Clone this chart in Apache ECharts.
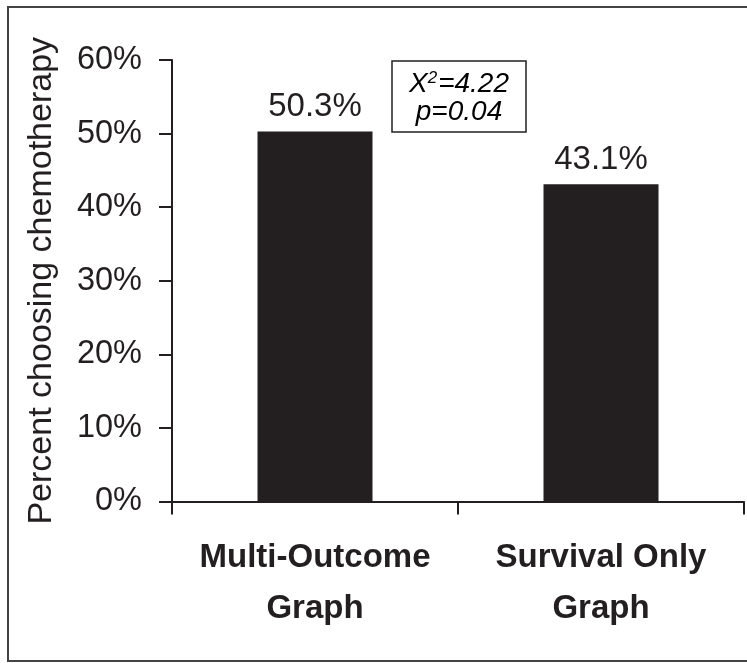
<!DOCTYPE html>
<html>
<head>
<meta charset="utf-8">
<script src="https://cdn.jsdelivr.net/npm/echarts@6/dist/echarts.min.js"></script>
<style>
html,body{margin:0;padding:0;background:#fff;}
#chart{width:747px;height:663px;}
</style>
</head>
<body>
<div id="chart"></div>
<script>
const categories = ['Multi-Outcome\nGraph', 'Survival Only\nGraph'];
const values = [50.3, 43.1];
const yTicks = { min: 0, max: 60, interval: 10 };
const statLines = ['X', '2', '=4.22', 'p=0.04'];

const ink = '#231f20';
const font = '"Liberation Sans", Arial, Helvetica, sans-serif';

const chart = echarts.init(document.getElementById('chart'), null, { renderer: 'canvas' });
chart.setOption({
  backgroundColor: '#fff',
  animation: false,
  grid: { left: 172, right: 3, top: 60, bottom: 161.5, containLabel: false },
  xAxis: {
    type: 'category',
    data: categories,
    axisLine: { show: true, lineStyle: { color: ink, width: 2 } },
    axisTick: { show: true, length: 13, lineStyle: { color: ink, width: 2 } },
    axisLabel: {
      color: ink, fontFamily: font, fontWeight: 'bold', fontSize: 33,
      lineHeight: 51, margin: 31, interval: 0
    }
  },
  yAxis: {
    type: 'value',
    min: yTicks.min, max: yTicks.max, interval: yTicks.interval,
    name: 'Percent choosing chemotherapy',
    nameLocation: 'middle',
    nameGap: 113,
    nameTextStyle: { color: ink, fontFamily: font, fontSize: 34 },
    axisLine: { show: true, lineStyle: { color: ink, width: 2 } },
    axisTick: { show: true, length: 13, lineStyle: { color: ink, width: 2 } },
    splitLine: { show: false },
    axisLabel: { color: ink, fontFamily: font, fontSize: 32.5, margin: 30, formatter: '{value}%' }
  },
  series: [{
    type: 'bar',
    data: values,
    barWidth: 115,
    itemStyle: { color: ink },
    label: {
      show: true, position: 'top', distance: 8,
      color: ink, fontFamily: font, fontSize: 33,
      formatter: p => p.value.toFixed(1) + '%'
    }
  }],
  graphic: [
    {
      type: 'rect', silent: true,
      shape: { x: 8, y: 7, width: 760, height: 654 },
      style: { fill: 'none', stroke: '#444', lineWidth: 2 }
    },
    {
      type: 'rect', silent: true,
      shape: { x: 392, y: 61, width: 134, height: 71 },
      style: { fill: '#fff', stroke: ink, lineWidth: 1.5 }
    },
    {
      type: 'text', silent: true,
      x: 459, y: 98,
      style: {
        text: '{i|' + statLines[0] + '}{s|' + statLines[1] + '}{i|' + statLines[2] + '}\n{i|' + statLines[3] + '}',
        align: 'center', verticalAlign: 'middle',
        rich: {
          i: { fontFamily: font, fontStyle: 'italic', fontSize: 28, lineHeight: 28, color: ink },
          s: { fontFamily: font, fontStyle: 'italic', fontSize: 17, lineHeight: 28, verticalAlign: 'top', padding: [0, 1, 14, 0], color: ink }
        }
      }
    }
  ]
});
</script>
</body>
</html>
